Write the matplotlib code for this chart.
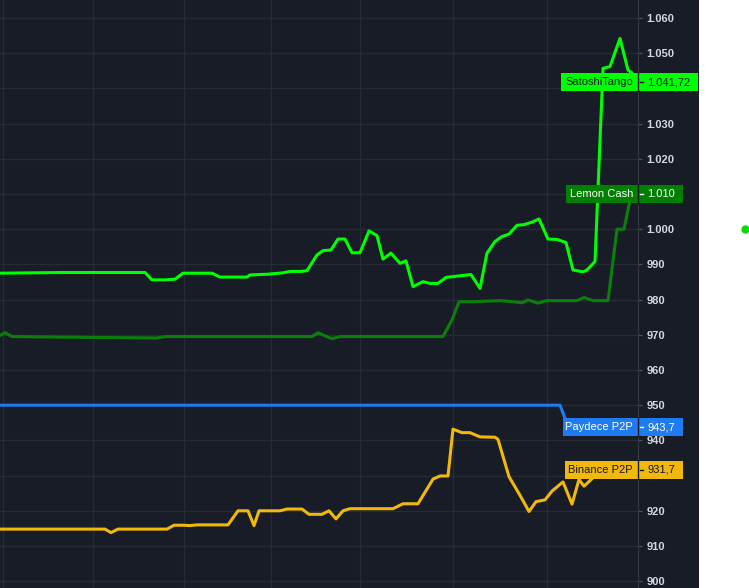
import matplotlib
matplotlib.use("Agg")
import matplotlib.pyplot as plt
from matplotlib.patches import Rectangle
from matplotlib.lines import Line2D
from matplotlib.ticker import FuncFormatter
import matplotlib.transforms as mtransforms

# time axis (minutes from the left edge of the chart)
satoshi_t = [0, 63, 145, 152, 165, 175, 183, 212, 220, 247, 250, 267, 283, 290, 300,
             307, 317, 323, 331, 338, 345, 352, 360, 369, 377, 383, 391, 400, 406, 413,
             423, 430, 438, 446, 458, 471, 480, 487, 495, 502, 509, 517, 524, 532, 539,
             548, 557, 566, 573, 583, 587, 595, 603, 610, 620, 628, 632, 638]
satoshi_v = [987.5, 987.7, 987.7, 985.6, 985.6, 985.8, 987.5, 987.5, 986.4, 986.4, 987.0,
             987.2, 987.6, 988.0, 988.0, 988.2, 992.7, 993.9, 994.1, 997.2, 997.2, 993.3,
             993.3, 999.5, 998.2, 991.5, 993.2, 990.3, 991.0, 983.7, 985.1, 984.6, 984.6,
             986.3, 986.7, 987.1, 983.2, 993.2, 996.5, 997.9, 998.6, 1001.1, 1001.3,
             1002.0, 1002.9, 997.2, 997.1, 996.2, 988.4, 987.9, 988.4, 990.8, 1045.7,
             1046.2, 1054.2, 1045.2, 1044.4, 1041.72]

lemon_t = [0, 5, 12, 73, 157, 165, 312, 318, 325, 332, 340, 443, 452, 459, 473, 500,
           513, 522, 528, 538, 547, 577, 584, 593, 608, 617, 624, 630, 638]
lemon_v = [969.8, 970.6, 969.5, 969.3, 969.1, 969.5, 969.5, 970.6, 969.7, 968.9, 969.5,
           969.5, 974.2, 979.4, 979.4, 979.7, 979.4, 979.1, 979.9, 979.0, 979.7, 979.7,
           980.6, 979.7, 979.7, 1000.0, 1000.0, 1008.3, 1010.0]

paydece_t = [0, 560, 565, 572, 638]
paydece_v = [950.0, 950.0, 946.3, 943.7, 943.7]

binance_t = [0, 105, 111, 118, 167, 174, 183, 190, 197, 228, 238, 248, 254, 259, 280,
             287, 302, 309, 322, 329, 336, 343, 350, 393, 403, 418, 433, 440, 448, 453,
             462, 470, 480, 495, 498, 509, 520, 529, 536, 545, 552, 563, 572, 579, 584,
             592, 600, 638]
binance_v = [914.8, 914.8, 913.8, 914.8, 914.8, 915.9, 915.9, 915.8, 916.0, 916.0, 920.0,
             920.0, 915.8, 920.0, 920.0, 920.5, 920.5, 919.0, 919.0, 920.0, 917.7, 920.0,
             920.6, 920.6, 922.0, 922.0, 929.0, 929.9, 929.9, 943.2, 942.2, 942.2, 941.0,
             940.9, 940.3, 929.7, 924.4, 919.8, 922.6, 923.1, 925.6, 928.2, 921.9, 928.9,
             927.0, 929.1, 931.7, 931.7]

names = ["SatoshiTango", "Lemon Cash", "Paydece P2P", "Binance P2P"]
last_values = [1041.72, 1010.0, 943.7, 931.7]
last_labels = ["1.041,72", "1.010", "943,7", "931,7"]

price_ticks = list(range(900, 1061, 10))
hidden_ticks = [1040, 1010, 930]   # covered by the price labels
time_grid = [3, 93, 184, 271, 360, 453, 547]

BG = "#181c27"
GRID = "#272b36"
W, H = 749, 588

fig = plt.figure(figsize=(W / 100, H / 100), dpi=100)
fig.patch.set_facecolor("white")
fig.add_artist(Rectangle((0, 0), 699 / W, 1, transform=fig.transFigure,
                         facecolor=BG, edgecolor="none", zorder=0))

ax = fig.add_axes([0, 0, 638 / W, 1])
ax.set_facecolor(BG)
ax.set_xlim(0, 638)
ax.set_ylim(1060 - 570 / 3.52, 1060 + 18 / 3.52)

ax.set_xticks(time_grid)
ax.set_yticks(price_ticks)
ax.grid(True, color=GRID, lw=1)
ax.tick_params(axis="x", length=0, labelbottom=False)
ax.yaxis.tick_right()
ax.tick_params(axis="y", length=3, pad=3, color="#50535e", labelcolor="#d6d8de",
               labelsize=8)


def price_fmt(v, pos):
    if int(round(v)) in hidden_ticks:
        return ""
    return f"{int(round(v)):,}".replace(",", ".")


ax.yaxis.set_major_formatter(FuncFormatter(price_fmt))
for lbl in ax.get_yticklabels():
    lbl.set_family("Liberation Sans")
    lbl.set_fontweight("bold")
for side in ["top", "bottom", "left"]:
    ax.spines[side].set_visible(False)
ax.spines["right"].set_color("#363a45")

ax.plot(paydece_t, paydece_v, color="#1e7bf0", lw=2.2, zorder=2, clip_on=False)
ax.plot(binance_t, binance_v, color="#f0b90b", lw=2.2, zorder=2)
ax.plot(lemon_t, lemon_v, color="#0a800a", lw=2.2, zorder=2)
ax.plot(satoshi_t, satoshi_v, color="#00ff00", lw=2.2, zorder=5)

# price labels on the right scale
blend = mtransforms.blended_transform_factory(fig.transFigure, ax.transData)
label_bg = ["#00ff00", "#007f00", "#1e7bf0", "#f0b90b"]
label_fg = ["#131722", "white", "white", "#131722"]
box_left = [561, 566, 563, 565]
box_right = [698, 683, 683, 683]
box_z = [6, 4, 4, 4]
box_h = 18 / 3.52
for i in range(len(names)):
    y = last_values[i]
    z = box_z[i]
    fig.add_artist(Rectangle((box_left[i] / W, y - box_h / 2),
                             (box_right[i] - box_left[i]) / W, box_h,
                             transform=blend, facecolor=label_bg[i],
                             edgecolor="none", zorder=z))
    fig.text(633 / W, y, names[i], transform=blend, ha="right", va="center",
             color=label_fg[i], fontsize=8, family="Liberation Sans", zorder=z + 0.1)
    fig.text(647 / W, y, last_labels[i], transform=blend, ha="left", va="center",
             color=label_fg[i], fontsize=8, family="Liberation Sans", zorder=z + 0.1)
    fig.add_artist(Line2D([638 / W, 638 / W], [y - box_h / 2, y + box_h / 2],
                          transform=blend, color=BG, lw=1, zorder=z + 0.2))
    fig.add_artist(Line2D([639.5 / W, 643 / W], [y, y], transform=blend,
                          color=label_fg[i], lw=1, zorder=z + 0.2))

# small marker on the white strip
fig.add_artist(Line2D([745 / W], [1 - 229 / H], transform=fig.transFigure,
                      marker="o", markersize=5, color="#00e000", lw=0))

fig.savefig("out.png", dpi=100, facecolor=fig.get_facecolor())
